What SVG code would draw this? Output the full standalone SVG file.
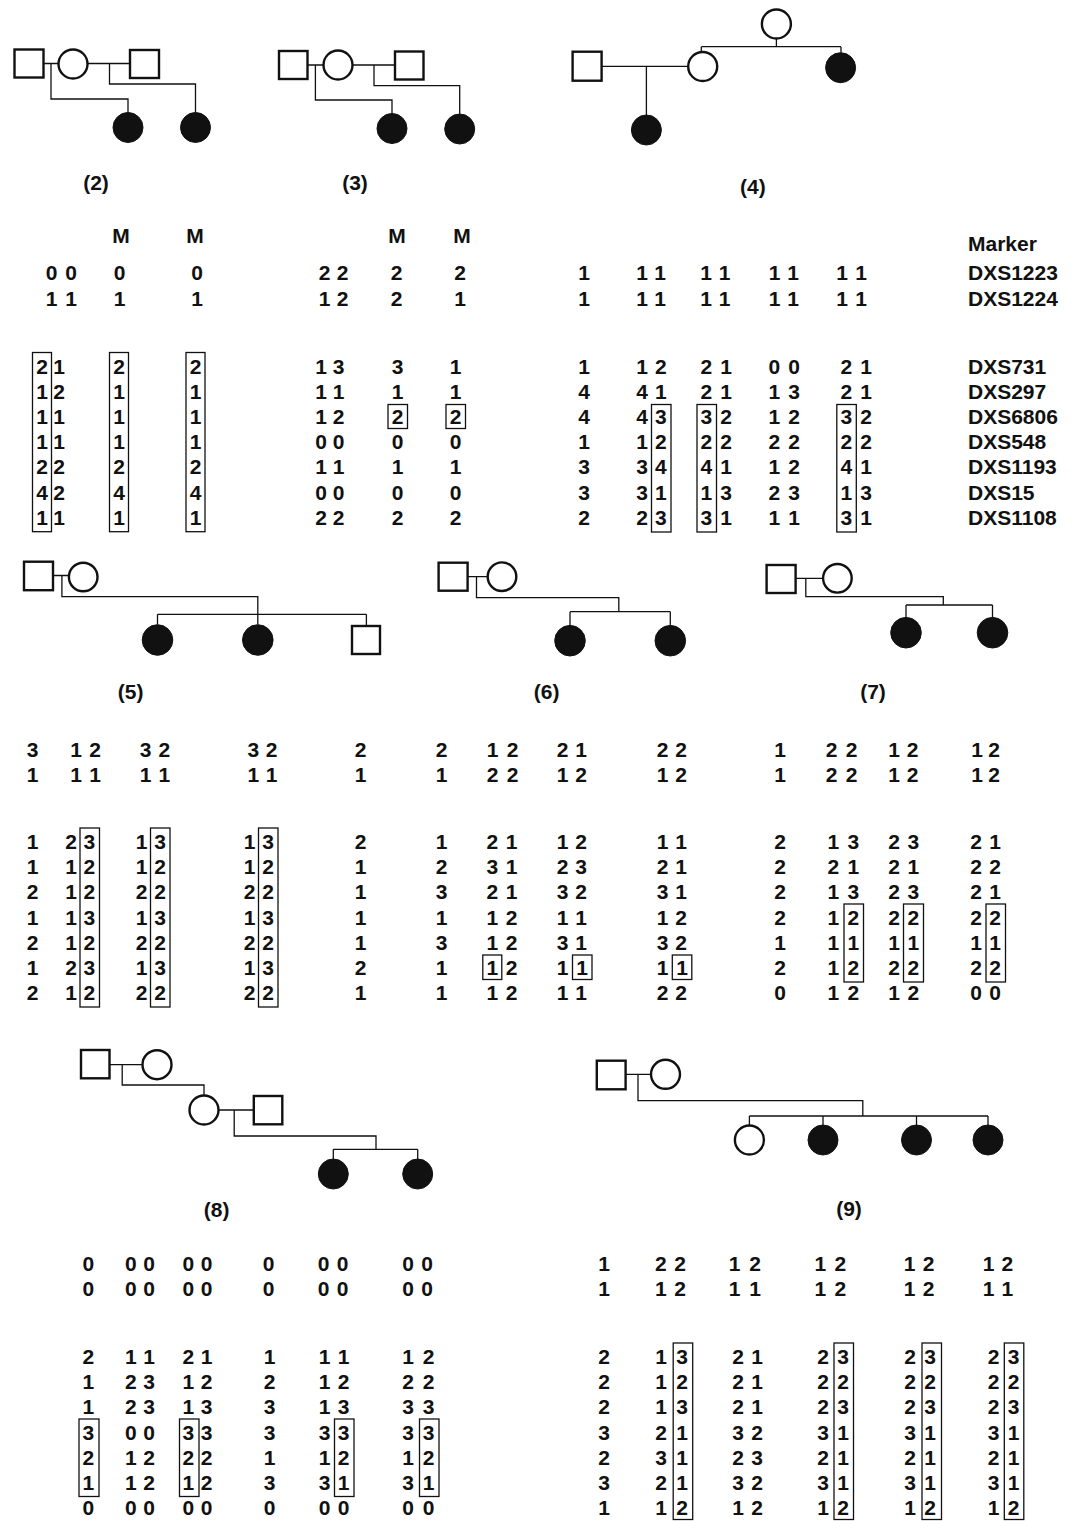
<svg xmlns="http://www.w3.org/2000/svg" width="1078" height="1521" viewBox="0 0 1078 1521">
<style>
text{font-family:"Liberation Sans",Arial,Helvetica,sans-serif;font-size:21px;font-weight:bold;fill:#111}
.c{text-anchor:middle}
.sym{fill:#fff;stroke:#111;stroke-width:2.4}
.aff{fill:#111;stroke:#111;stroke-width:1}
.ln{fill:none;stroke:#111;stroke-width:1.3}
.bx{fill:none;stroke:#111;stroke-width:1.3}
</style>
<rect width="1078" height="1521" fill="#fff"/>
<g id="connectors">
<path class="ln" d="M43.5 63.5H58.5M87.5 63.5H130M51 63.5V99H128V112.5M109.5 63.5V84H195.5V112.5"/>
<path class="ln" d="M307.5 65H323.5M352.5 65H395M315.4 65V100H392V113.5M374 65V85.7H459.7V114"/>
<path class="ln" d="M602 66.3H688M646.4 66.3V115M776.4 38.5V46.7M701.3 46.7H841M701.3 46.7V52M841 46.7V52.7"/>
<path class="ln" d="M53 575.5H68.7M61.9 575.5V596.7H257.8V624.5M157.5 614.3H366.4M157.5 614.3V624.5M366.4 614.3V626"/>
<path class="ln" d="M467.6 576.7H487.5M476.5 576.7V597.7H618.8V611.7M570 611.7H670.3M570 611.7V625.7M670.3 611.7V625.7"/>
<path class="ln" d="M795.5 578.3H823M805.8 578.3V596.7H943.3V605M906 605H992.5M906 605V617.7M992.5 605V617.7"/>
<path class="ln" d="M109.5 1064.7H142.5M122.2 1064.7V1085H204V1095.5M218.5 1110H253.8M234.2 1110V1136H376V1149.3M333.3 1149.3H417.7M333.3 1149.3V1159M417.7 1149.3V1159"/>
<path class="ln" d="M625.6 1074.3H650.5M638 1074.3V1100.7H862.8V1116M749.4 1116H988M749.4 1116V1125.5M823 1116V1125M916.5 1116V1125M988 1116V1125"/>
</g>
<g id="ped2">
<g id="p2-1"><rect class="sym" x="14.5" y="49.5" width="29" height="28"/></g>
<g id="p2-2"><circle class="sym" cx="73" cy="64" r="14.5"/></g>
<g id="p2-3"><rect class="sym" x="130" y="50" width="29" height="28"/></g>
<g id="p2-4"><circle class="aff" cx="128" cy="127.5" r="15"/></g>
<g id="p2-5"><circle class="aff" cx="195.5" cy="127.5" r="15"/></g>
<text class="c" x="96" y="190">(2)</text>
</g>
<g id="ped3">
<g id="p3-1"><rect class="sym" x="279" y="51" width="28.5" height="28"/></g>
<g id="p3-2"><circle class="sym" cx="338" cy="65" r="14.5"/></g>
<g id="p3-3"><rect class="sym" x="395" y="51.5" width="28.5" height="28"/></g>
<g id="p3-4"><circle class="aff" cx="392" cy="128.5" r="15"/></g>
<g id="p3-5"><circle class="aff" cx="459.7" cy="129" r="15"/></g>
<text class="c" x="355" y="190">(3)</text>
</g>
<g id="ped4">
<g id="p4-1"><rect class="sym" x="572.6" y="51.7" width="29" height="29"/></g>
<g id="p4-2"><circle class="sym" cx="702.7" cy="66.5" r="14.5"/></g>
<g id="p4-3"><circle class="sym" cx="776.4" cy="24" r="14.5"/></g>
<g id="p4-4"><circle class="aff" cx="840.6" cy="67.7" r="15"/></g>
<g id="p4-5"><circle class="aff" cx="646.4" cy="130" r="15"/></g>
<text class="c" x="752.8" y="194">(4)</text>
</g>
<g id="ped5">
<g id="p5-1"><rect class="sym" x="24" y="561.7" width="29" height="28.5"/></g>
<g id="p5-2"><circle class="sym" cx="83.2" cy="577" r="14.3"/></g>
<g id="p5-3"><circle class="aff" cx="157.5" cy="640" r="15.3"/></g>
<g id="p5-4"><circle class="aff" cx="257.8" cy="640" r="15.3"/></g>
<g id="p5-5"><rect class="sym" x="352" y="626" width="28" height="28"/></g>
<text class="c" x="130.6" y="699">(5)</text>
</g>
<g id="ped6">
<g id="p6-1"><rect class="sym" x="438.6" y="562.7" width="29" height="28"/></g>
<g id="p6-2"><circle class="sym" cx="502" cy="576.7" r="14.3"/></g>
<g id="p6-3"><circle class="aff" cx="570" cy="640.7" r="15.3"/></g>
<g id="p6-4"><circle class="aff" cx="670.3" cy="640.7" r="15.3"/></g>
<text class="c" x="546.6" y="699">(6)</text>
</g>
<g id="ped7">
<g id="p7-1"><rect class="sym" x="766.6" y="565" width="29" height="28"/></g>
<g id="p7-2"><circle class="sym" cx="837.4" cy="578.3" r="14.3"/></g>
<g id="p7-3"><circle class="aff" cx="906" cy="632.7" r="15.3"/></g>
<g id="p7-4"><circle class="aff" cx="992.5" cy="632.7" r="15.3"/></g>
<text class="c" x="873" y="699">(7)</text>
</g>
<g id="ped8">
<g id="p8-1"><rect class="sym" x="81" y="1050" width="28.5" height="28.3"/></g>
<g id="p8-2"><circle class="sym" cx="157" cy="1064.7" r="14.5"/></g>
<g id="p8-3"><circle class="sym" cx="204" cy="1110" r="14.5"/></g>
<g id="p8-4"><rect class="sym" x="253.8" y="1096" width="28.5" height="28.3"/></g>
<g id="p8-5"><circle class="aff" cx="333.3" cy="1174" r="15"/></g>
<g id="p8-6"><circle class="aff" cx="417.7" cy="1174" r="15"/></g>
<text class="c" x="216.6" y="1217">(8)</text>
</g>
<g id="ped9">
<g id="p9-1"><rect class="sym" x="596.8" y="1060.7" width="28.8" height="28.6"/></g>
<g id="p9-2"><circle class="sym" cx="665.5" cy="1074.3" r="14.5"/></g>
<g id="p9-3"><circle class="sym" cx="749.4" cy="1140" r="14.5"/></g>
<g id="p9-4"><circle class="aff" cx="823" cy="1140" r="15"/></g>
<g id="p9-5"><circle class="aff" cx="916.5" cy="1140" r="15"/></g>
<g id="p9-6"><circle class="aff" cx="988" cy="1140" r="15"/></g>
<text class="c" x="849" y="1216">(9)</text>
</g>
<g id="markers">
<text x="968" y="251">Marker</text>
<text x="968" y="280">DXS1223</text>
<text x="968" y="306">DXS1224</text>
<text x="968" y="373.5">DXS731</text>
<text x="968" y="398.7">DXS297</text>
<text x="968" y="423.9">DXS6806</text>
<text x="968" y="449.1">DXS548</text>
<text x="968" y="474.3">DXS1193</text>
<text x="968" y="499.5">DXS15</text>
<text x="968" y="524.7">DXS1108</text>
</g>
<g id="data2">
<text class="c" x="121" y="243">M</text><text class="c" x="195" y="243">M</text>
<text class="c" x="51.5 61.3 71" y="280">0 0</text><text class="c" x="119.5" y="280">0</text><text class="c" x="197" y="280">0</text>
<text class="c" x="51.5 61.3 71" y="306">1 1</text><text class="c" x="119.5" y="306">1</text><text class="c" x="197" y="306">1</text>
<text class="c" x="42 50.6 59.2" y="373.5">2 1</text><text class="c" x="119" y="373.5">2</text><text class="c" x="195.5" y="373.5">2</text>
<text class="c" x="42 50.6 59.2" y="398.7">1 2</text><text class="c" x="119" y="398.7">1</text><text class="c" x="195.5" y="398.7">1</text>
<text class="c" x="42 50.6 59.2" y="423.9">1 1</text><text class="c" x="119" y="423.9">1</text><text class="c" x="195.5" y="423.9">1</text>
<text class="c" x="42 50.6 59.2" y="449.1">1 1</text><text class="c" x="119" y="449.1">1</text><text class="c" x="195.5" y="449.1">1</text>
<text class="c" x="42 50.6 59.2" y="474.3">2 2</text><text class="c" x="119" y="474.3">2</text><text class="c" x="195.5" y="474.3">2</text>
<text class="c" x="42 50.6 59.2" y="499.5">4 2</text><text class="c" x="119" y="499.5">4</text><text class="c" x="195.5" y="499.5">4</text>
<text class="c" x="42 50.6 59.2" y="524.7">1 1</text><text class="c" x="119" y="524.7">1</text><text class="c" x="195.5" y="524.7">1</text>
<rect class="bx" x="32.5" y="352.5" width="19" height="179.2"/>
<rect class="bx" x="109.5" y="352.5" width="19" height="179.2"/>
<rect class="bx" x="186" y="352.5" width="19" height="179.2"/>
</g>
<g id="data3">
<text class="c" x="397" y="243">M</text><text class="c" x="462" y="243">M</text>
<text class="c" x="324.5 333.5 342.5" y="280">2 2</text><text class="c" x="396.5" y="280">2</text><text class="c" x="460" y="280">2</text>
<text class="c" x="324.5 333.5 342.5" y="306">1 2</text><text class="c" x="396.5" y="306">2</text><text class="c" x="460" y="306">1</text>
<text class="c" x="321 329.8 338.5" y="373.5">1 3</text><text class="c" x="397.5" y="373.5">3</text><text class="c" x="455.5" y="373.5">1</text>
<text class="c" x="321 329.8 338.5" y="398.7">1 1</text><text class="c" x="397.5" y="398.7">1</text><text class="c" x="455.5" y="398.7">1</text>
<text class="c" x="321 329.8 338.5" y="423.9">1 2</text><text class="c" x="397.5" y="423.9">2</text><text class="c" x="455.5" y="423.9">2</text>
<text class="c" x="321 329.8 338.5" y="449.1">0 0</text><text class="c" x="397.5" y="449.1">0</text><text class="c" x="455.5" y="449.1">0</text>
<text class="c" x="321 329.8 338.5" y="474.3">1 1</text><text class="c" x="397.5" y="474.3">1</text><text class="c" x="455.5" y="474.3">1</text>
<text class="c" x="321 329.8 338.5" y="499.5">0 0</text><text class="c" x="397.5" y="499.5">0</text><text class="c" x="455.5" y="499.5">0</text>
<text class="c" x="321 329.8 338.5" y="524.7">2 2</text><text class="c" x="397.5" y="524.7">2</text><text class="c" x="455.5" y="524.7">2</text>
<rect class="bx" x="388" y="404.5" width="19.5" height="24"/>
<rect class="bx" x="446" y="404.5" width="19.5" height="24"/>
</g>
<g id="data4">
<text class="c" x="584" y="280">1</text><text class="c" x="642 651 660" y="280">1 1</text><text class="c" x="706 715.2 724.5" y="280">1 1</text><text class="c" x="774.5 783.7 793" y="280">1 1</text><text class="c" x="842 851.5 861" y="280">1 1</text>
<text class="c" x="584" y="306">1</text><text class="c" x="642 651 660" y="306">1 1</text><text class="c" x="706 715.2 724.5" y="306">1 1</text><text class="c" x="774.5 783.7 793" y="306">1 1</text><text class="c" x="842 851.5 861" y="306">1 1</text>
<text class="c" x="584" y="373.5">1</text><text class="c" x="642 651.4 660.8" y="373.5">1 2</text><text class="c" x="706.4 716.2 726" y="373.5">2 1</text><text class="c" x="774.4 784.2 794" y="373.5">0 0</text><text class="c" x="846.4 856.2 866" y="373.5">2 1</text>
<text class="c" x="584" y="398.7">4</text><text class="c" x="642 651.4 660.8" y="398.7">4 1</text><text class="c" x="706.4 716.2 726" y="398.7">2 1</text><text class="c" x="774.4 784.2 794" y="398.7">1 3</text><text class="c" x="846.4 856.2 866" y="398.7">2 1</text>
<text class="c" x="584" y="423.9">4</text><text class="c" x="642 651.4 660.8" y="423.9">4 3</text><text class="c" x="706.4 716.2 726" y="423.9">3 2</text><text class="c" x="774.4 784.2 794" y="423.9">1 2</text><text class="c" x="846.4 856.2 866" y="423.9">3 2</text>
<text class="c" x="584" y="449.1">1</text><text class="c" x="642 651.4 660.8" y="449.1">1 2</text><text class="c" x="706.4 716.2 726" y="449.1">2 2</text><text class="c" x="774.4 784.2 794" y="449.1">2 2</text><text class="c" x="846.4 856.2 866" y="449.1">2 2</text>
<text class="c" x="584" y="474.3">3</text><text class="c" x="642 651.4 660.8" y="474.3">3 4</text><text class="c" x="706.4 716.2 726" y="474.3">4 1</text><text class="c" x="774.4 784.2 794" y="474.3">1 2</text><text class="c" x="846.4 856.2 866" y="474.3">4 1</text>
<text class="c" x="584" y="499.5">3</text><text class="c" x="642 651.4 660.8" y="499.5">3 1</text><text class="c" x="706.4 716.2 726" y="499.5">1 3</text><text class="c" x="774.4 784.2 794" y="499.5">2 3</text><text class="c" x="846.4 856.2 866" y="499.5">1 3</text>
<text class="c" x="584" y="524.7">2</text><text class="c" x="642 651.4 660.8" y="524.7">2 3</text><text class="c" x="706.4 716.2 726" y="524.7">3 1</text><text class="c" x="774.4 784.2 794" y="524.7">1 1</text><text class="c" x="846.4 856.2 866" y="524.7">3 1</text>
<rect class="bx" x="651.5" y="404.5" width="19.5" height="127.5"/>
<rect class="bx" x="697" y="404.5" width="19.5" height="127.5"/>
<rect class="bx" x="836.8" y="404.5" width="19.5" height="127.5"/>
</g>
<g id="data5">
<text class="c" x="32.5" y="757">3</text><text class="c" x="76 85.5 95" y="757">1 2</text><text class="c" x="145.7 155 164.3" y="757">3 2</text><text class="c" x="253.3 262.5 271.7" y="757">3 2</text><text class="c" x="360.5" y="757">2</text>
<text class="c" x="32.5" y="782">1</text><text class="c" x="76 85.5 95" y="782">1 1</text><text class="c" x="145.7 155 164.3" y="782">1 1</text><text class="c" x="253.3 262.5 271.7" y="782">1 1</text><text class="c" x="360.5" y="782">1</text>
<text class="c" x="32.5" y="849">1</text><text class="c" x="71 80.2 89.4" y="849">2 3</text><text class="c" x="141.7 150.9 160" y="849">1 3</text><text class="c" x="249.5 258.8 268" y="849">1 3</text><text class="c" x="360.5" y="849">2</text>
<text class="c" x="32.5" y="874.2">1</text><text class="c" x="71 80.2 89.4" y="874.2">1 2</text><text class="c" x="141.7 150.9 160" y="874.2">1 2</text><text class="c" x="249.5 258.8 268" y="874.2">1 2</text><text class="c" x="360.5" y="874.2">1</text>
<text class="c" x="32.5" y="899.4">2</text><text class="c" x="71 80.2 89.4" y="899.4">1 2</text><text class="c" x="141.7 150.9 160" y="899.4">2 2</text><text class="c" x="249.5 258.8 268" y="899.4">2 2</text><text class="c" x="360.5" y="899.4">1</text>
<text class="c" x="32.5" y="924.6">1</text><text class="c" x="71 80.2 89.4" y="924.6">1 3</text><text class="c" x="141.7 150.9 160" y="924.6">1 3</text><text class="c" x="249.5 258.8 268" y="924.6">1 3</text><text class="c" x="360.5" y="924.6">1</text>
<text class="c" x="32.5" y="949.8">2</text><text class="c" x="71 80.2 89.4" y="949.8">1 2</text><text class="c" x="141.7 150.9 160" y="949.8">2 2</text><text class="c" x="249.5 258.8 268" y="949.8">2 2</text><text class="c" x="360.5" y="949.8">1</text>
<text class="c" x="32.5" y="975">1</text><text class="c" x="71 80.2 89.4" y="975">2 3</text><text class="c" x="141.7 150.9 160" y="975">1 3</text><text class="c" x="249.5 258.8 268" y="975">1 3</text><text class="c" x="360.5" y="975">2</text>
<text class="c" x="32.5" y="1000.2">2</text><text class="c" x="71 80.2 89.4" y="1000.2">1 2</text><text class="c" x="141.7 150.9 160" y="1000.2">2 2</text><text class="c" x="249.5 258.8 268" y="1000.2">2 2</text><text class="c" x="360.5" y="1000.2">1</text>
<rect class="bx" x="80" y="828" width="19.5" height="179"/>
<rect class="bx" x="150.5" y="828" width="19.5" height="179"/>
<rect class="bx" x="258.5" y="828" width="19.5" height="179"/>
</g>
<g id="data6">
<text class="c" x="441.5" y="757">2</text><text class="c" x="492.7 502.7 512.7" y="757">1 2</text><text class="c" x="562.7 571.8 581" y="757">2 1</text><text class="c" x="662.7 671.8 681" y="757">2 2</text>
<text class="c" x="441.5" y="782">1</text><text class="c" x="492.7 502.7 512.7" y="782">2 2</text><text class="c" x="562.7 571.8 581" y="782">1 2</text><text class="c" x="662.7 671.8 681" y="782">1 2</text>
<text class="c" x="441.5" y="849">1</text><text class="c" x="492.3 502 511.7" y="849">2 1</text><text class="c" x="562.7 571.8 581" y="849">1 2</text><text class="c" x="662.7 671.8 681" y="849">1 1</text>
<text class="c" x="441.5" y="874.2">2</text><text class="c" x="492.3 502 511.7" y="874.2">3 1</text><text class="c" x="562.7 571.8 581" y="874.2">2 3</text><text class="c" x="662.7 671.8 681" y="874.2">2 1</text>
<text class="c" x="441.5" y="899.4">3</text><text class="c" x="492.3 502 511.7" y="899.4">2 1</text><text class="c" x="562.7 571.8 581" y="899.4">3 2</text><text class="c" x="662.7 671.8 681" y="899.4">3 1</text>
<text class="c" x="441.5" y="924.6">1</text><text class="c" x="492.3 502 511.7" y="924.6">1 2</text><text class="c" x="562.7 571.8 581" y="924.6">1 1</text><text class="c" x="662.7 671.8 681" y="924.6">1 2</text>
<text class="c" x="441.5" y="949.8">3</text><text class="c" x="492.3 502 511.7" y="949.8">1 2</text><text class="c" x="562.7 571.8 581" y="949.8">3 1</text><text class="c" x="662.7 671.8 681" y="949.8">3 2</text>
<text class="c" x="441.5" y="975">1</text><text class="c" x="492.3 502 511.7" y="975">1 2</text><text class="c" x="562.7 571.8 582" y="975">1 1</text><text class="c" x="662.7 671.8 682" y="975">1 1</text>
<text class="c" x="441.5" y="1000.2">1</text><text class="c" x="492.3 502 511.7" y="1000.2">1 2</text><text class="c" x="562.7 571.8 581" y="1000.2">1 1</text><text class="c" x="662.7 671.8 681" y="1000.2">2 2</text>
<rect class="bx" x="482.8" y="955" width="19" height="24.5"/>
<rect class="bx" x="572.5" y="955" width="19.5" height="24.5"/>
<rect class="bx" x="672.3" y="955" width="19.5" height="24.5"/>
</g>
<g id="data7">
<text class="c" x="780" y="757">1</text><text class="c" x="831.7 841.7 851.7" y="757">2 2</text><text class="c" x="894 903.3 912.7" y="757">1 2</text><text class="c" x="977 985.5 994" y="757">1 2</text>
<text class="c" x="780" y="782">1</text><text class="c" x="831.7 841.7 851.7" y="782">2 2</text><text class="c" x="894 903.3 912.7" y="782">1 2</text><text class="c" x="977 985.5 994" y="782">1 2</text>
<text class="c" x="780" y="849">2</text><text class="c" x="833.3 843.3 853.3" y="849">1 3</text><text class="c" x="894 903.6 913.3" y="849">2 3</text><text class="c" x="976 985.5 995" y="849">2 1</text>
<text class="c" x="780" y="874.2">2</text><text class="c" x="833.3 843.3 853.3" y="874.2">2 1</text><text class="c" x="894 903.6 913.3" y="874.2">2 1</text><text class="c" x="976 985.5 995" y="874.2">2 2</text>
<text class="c" x="780" y="899.4">2</text><text class="c" x="833.3 843.3 853.3" y="899.4">1 3</text><text class="c" x="894 903.6 913.3" y="899.4">2 3</text><text class="c" x="976 985.5 995" y="899.4">2 1</text>
<text class="c" x="780" y="924.6">2</text><text class="c" x="833.3 843.3 853.3" y="924.6">1 2</text><text class="c" x="894 903.6 913.3" y="924.6">2 2</text><text class="c" x="976 985.5 995" y="924.6">2 2</text>
<text class="c" x="780" y="949.8">1</text><text class="c" x="833.3 843.3 853.3" y="949.8">1 1</text><text class="c" x="894 903.6 913.3" y="949.8">1 1</text><text class="c" x="976 985.5 995" y="949.8">1 1</text>
<text class="c" x="780" y="975">2</text><text class="c" x="833.3 843.3 853.3" y="975">1 2</text><text class="c" x="894 903.6 913.3" y="975">2 2</text><text class="c" x="976 985.5 995" y="975">2 2</text>
<text class="c" x="780" y="1000.2">0</text><text class="c" x="833.3 843.3 853.3" y="1000.2">1 2</text><text class="c" x="894 903.6 913.3" y="1000.2">1 2</text><text class="c" x="976 985.5 995" y="1000.2">0 0</text>
<rect class="bx" x="844" y="904" width="19.5" height="78"/>
<rect class="bx" x="903.5" y="904" width="20" height="78"/>
<rect class="bx" x="986" y="904" width="19.5" height="78"/>
</g>
<g id="data8">
<text class="c" x="88.3" y="1270.5">0</text><text class="c" x="130.9 140 149.1" y="1270.5">0 0</text><text class="c" x="188.4 197.5 206.6" y="1270.5">0 0</text><text class="c" x="268.5" y="1270.5">0</text><text class="c" x="323.7 333.2 342.6" y="1270.5">0 0</text><text class="c" x="408 417.5 427" y="1270.5">0 0</text>
<text class="c" x="88.3" y="1295.5">0</text><text class="c" x="130.9 140 149.1" y="1295.5">0 0</text><text class="c" x="188.4 197.5 206.6" y="1295.5">0 0</text><text class="c" x="268.5" y="1295.5">0</text><text class="c" x="323.7 333.2 342.6" y="1295.5">0 0</text><text class="c" x="408 417.5 427" y="1295.5">0 0</text>
<text class="c" x="88.3" y="1364">2</text><text class="c" x="130.9 140 149.1" y="1364">1 1</text><text class="c" x="188.4 197.5 206.6" y="1364">2 1</text><text class="c" x="269.5" y="1364">1</text><text class="c" x="324.5 334 343.5" y="1364">1 1</text><text class="c" x="408 418.3 428.5" y="1364">1 2</text>
<text class="c" x="88.3" y="1389.2">1</text><text class="c" x="130.9 140 149.1" y="1389.2">2 3</text><text class="c" x="188.4 197.5 206.6" y="1389.2">1 2</text><text class="c" x="269.5" y="1389.2">2</text><text class="c" x="324.5 334 343.5" y="1389.2">1 2</text><text class="c" x="408 418.3 428.5" y="1389.2">2 2</text>
<text class="c" x="88.3" y="1414.4">1</text><text class="c" x="130.9 140 149.1" y="1414.4">2 3</text><text class="c" x="188.4 197.5 206.6" y="1414.4">1 3</text><text class="c" x="269.5" y="1414.4">3</text><text class="c" x="324.5 334 343.5" y="1414.4">1 3</text><text class="c" x="408 418.3 428.5" y="1414.4">3 3</text>
<text class="c" x="88.3" y="1439.6">3</text><text class="c" x="130.9 140 149.1" y="1439.6">0 0</text><text class="c" x="188.4 197.5 206.6" y="1439.6">3 3</text><text class="c" x="269.5" y="1439.6">3</text><text class="c" x="324.5 334 343.5" y="1439.6">3 3</text><text class="c" x="408 418.3 428.5" y="1439.6">3 3</text>
<text class="c" x="88.3" y="1464.8">2</text><text class="c" x="130.9 140 149.1" y="1464.8">1 2</text><text class="c" x="188.4 197.5 206.6" y="1464.8">2 2</text><text class="c" x="269.5" y="1464.8">1</text><text class="c" x="324.5 334 343.5" y="1464.8">1 2</text><text class="c" x="408 418.3 428.5" y="1464.8">1 2</text>
<text class="c" x="88.3" y="1490">1</text><text class="c" x="130.9 140 149.1" y="1490">1 2</text><text class="c" x="188.4 197.5 206.6" y="1490">1 2</text><text class="c" x="269.5" y="1490">3</text><text class="c" x="324.5 334 343.5" y="1490">3 1</text><text class="c" x="408 418.3 428.5" y="1490">3 1</text>
<text class="c" x="88.3" y="1515.2">0</text><text class="c" x="130.9 140 149.1" y="1515.2">0 0</text><text class="c" x="188.4 197.5 206.6" y="1515.2">0 0</text><text class="c" x="269.5" y="1515.2">0</text><text class="c" x="324.5 334 343.5" y="1515.2">0 0</text><text class="c" x="408 418.3 428.5" y="1515.2">0 0</text>
<rect class="bx" x="79" y="1419" width="20" height="77.5"/>
<rect class="bx" x="179.5" y="1419" width="19.5" height="77.5"/>
<rect class="bx" x="334.5" y="1419" width="19.5" height="77.5"/>
<rect class="bx" x="419.5" y="1419" width="19.5" height="77.5"/>
</g>
<g id="data9">
<text class="c" x="604.2" y="1270.5">1</text><text class="c" x="660.8 670.4 680" y="1270.5">2 2</text><text class="c" x="734.6 744.9 755.2" y="1270.5">1 2</text><text class="c" x="820.4 830.3 840.3" y="1270.5">1 2</text><text class="c" x="909.6 919 928.5" y="1270.5">1 2</text><text class="c" x="988.5 998 1007.4" y="1270.5">1 2</text>
<text class="c" x="604.2" y="1295.5">1</text><text class="c" x="660.8 670.4 680" y="1295.5">1 2</text><text class="c" x="734.6 744.9 755.2" y="1295.5">1 1</text><text class="c" x="820.4 830.3 840.3" y="1295.5">1 2</text><text class="c" x="909.6 919 928.5" y="1295.5">1 2</text><text class="c" x="988.5 998 1007.4" y="1295.5">1 1</text>
<text class="c" x="604.2" y="1364">2</text><text class="c" x="661 671.5 682" y="1364">1 3</text><text class="c" x="738 747.5 757" y="1364">2 1</text><text class="c" x="823 833 843" y="1364">2 3</text><text class="c" x="910 920 930" y="1364">2 3</text><text class="c" x="993.7 1003.7 1013.7" y="1364">2 3</text>
<text class="c" x="604.2" y="1389.2">2</text><text class="c" x="661 671.5 682" y="1389.2">1 2</text><text class="c" x="738 747.5 757" y="1389.2">2 1</text><text class="c" x="823 833 843" y="1389.2">2 2</text><text class="c" x="910 920 930" y="1389.2">2 2</text><text class="c" x="993.7 1003.7 1013.7" y="1389.2">2 2</text>
<text class="c" x="604.2" y="1414.4">2</text><text class="c" x="661 671.5 682" y="1414.4">1 3</text><text class="c" x="738 747.5 757" y="1414.4">2 1</text><text class="c" x="823 833 843" y="1414.4">2 3</text><text class="c" x="910 920 930" y="1414.4">2 3</text><text class="c" x="993.7 1003.7 1013.7" y="1414.4">2 3</text>
<text class="c" x="604.2" y="1439.6">3</text><text class="c" x="661 671.5 682" y="1439.6">2 1</text><text class="c" x="738 747.5 757" y="1439.6">3 2</text><text class="c" x="823 833 843" y="1439.6">3 1</text><text class="c" x="910 920 930" y="1439.6">3 1</text><text class="c" x="993.7 1003.7 1013.7" y="1439.6">3 1</text>
<text class="c" x="604.2" y="1464.8">2</text><text class="c" x="661 671.5 682" y="1464.8">3 1</text><text class="c" x="738 747.5 757" y="1464.8">2 3</text><text class="c" x="823 833 843" y="1464.8">2 1</text><text class="c" x="910 920 930" y="1464.8">2 1</text><text class="c" x="993.7 1003.7 1013.7" y="1464.8">2 1</text>
<text class="c" x="604.2" y="1490">3</text><text class="c" x="661 671.5 682" y="1490">2 1</text><text class="c" x="738 747.5 757" y="1490">3 2</text><text class="c" x="823 833 843" y="1490">3 1</text><text class="c" x="910 920 930" y="1490">3 1</text><text class="c" x="993.7 1003.7 1013.7" y="1490">3 1</text>
<text class="c" x="604.2" y="1515.2">1</text><text class="c" x="661 671.5 682" y="1515.2">1 2</text><text class="c" x="738 747.5 757" y="1515.2">1 2</text><text class="c" x="823 833 843" y="1515.2">1 2</text><text class="c" x="910 920 930" y="1515.2">1 2</text><text class="c" x="993.7 1003.7 1013.7" y="1515.2">1 2</text>
<rect class="bx" x="673.2" y="1343" width="19.5" height="176.5"/>
<rect class="bx" x="834" y="1343" width="19.5" height="176.5"/>
<rect class="bx" x="922" y="1343" width="19.5" height="176.5"/>
<rect class="bx" x="1004.3" y="1343" width="19.5" height="176.5"/>
</g>
</svg>
